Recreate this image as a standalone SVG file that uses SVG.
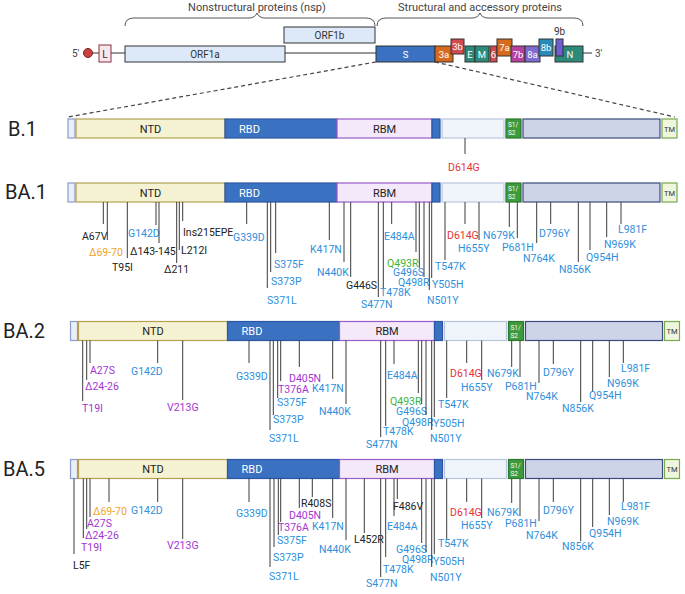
<svg xmlns="http://www.w3.org/2000/svg" width="685" height="594" viewBox="0 0 685 594">
<style>
text{font-family:Roboto,"Liberation Sans",sans-serif}
.m{font-size:10.5px}
.b{fill:#2f8fdc}.k{fill:#222}.p{fill:#a236d2}.o{fill:#f0a21e}.g{fill:#3cb43c}.r{fill:#e43434}
.ld{stroke:#3a3a3a;stroke-width:1;fill:none}
.gb{stroke:#333;stroke-width:1}
.gt{font-size:9.5px;fill:#fff;text-anchor:middle}
.row{font-size:20px;fill:#222}
.seg{stroke-width:1.2}
.w{fill:#fff}
.c{text-anchor:middle}
</style>
<rect width="685" height="594" fill="#fff"/>

<g id="header">
<path d="M125 26Q125 18 134 18H249Q255 18 257 13Q259 18 265 18H366Q375 18 375 26" fill="none" stroke="#555" stroke-width="1"/>
<path d="M377 26Q377 18 386 18H472Q478 18 480 13Q482 18 488 18H574Q583 18 583 26" fill="none" stroke="#555" stroke-width="1"/>
<text x="257" y="11" font-size="11" fill="#444" class="c">Nonstructural proteins (nsp)</text>
<text x="480" y="11" font-size="11" fill="#444" class="c">Structural and accessory proteins</text>
</g>

<g id="genome">
<path d="M92 53H99M111 53H125M285 53H376M583 53H592" stroke="#333" stroke-width="1.2"/>
<text x="72" y="57" font-size="10" fill="#444">5'</text>
<circle cx="88" cy="53" r="4.5" fill="#c94242" stroke="#7a2020"/>
<rect x="99" y="45" width="12" height="17" fill="#f8e6ea" stroke="#8a3040"/>
<text x="105" y="57.5" font-size="10" fill="#333" class="c">L</text>
<rect x="125" y="46" width="160" height="16" fill="#dde9f8" class="gb"/>
<text x="205" y="57.5" font-size="10" fill="#333" class="c">ORF1a</text>
<rect x="284" y="27" width="91" height="16" fill="#dde9f8" class="gb"/>
<text x="329.5" y="38.5" font-size="10" fill="#333" class="c">ORF1b</text>
<rect x="376" y="46" width="59" height="16" fill="#3b71c1" class="gb"/>
<text x="405.5" y="57.5" class="gt">S</text>
<rect x="435" y="46" width="18" height="16" fill="#d76a1e" class="gb"/>
<text x="444" y="57.5" class="gt">3a</text>
<rect x="451" y="39" width="13" height="15" fill="#d2494e" class="gb"/>
<text x="457.5" y="50" class="gt">3b</text>
<rect x="465" y="46" width="10" height="16" fill="#2b8a7a" class="gb"/>
<text x="470" y="57.5" class="gt">E</text>
<rect x="475" y="46" width="14" height="16" fill="#2b8a7a" class="gb"/>
<text x="482" y="57.5" class="gt">M</text>
<rect x="490" y="46" width="7" height="16" fill="#d2494e" class="gb"/>
<text x="493.5" y="57.5" class="gt">6</text>
<rect x="497" y="39" width="15" height="17" fill="#d76a1e" class="gb"/>
<text x="504.5" y="51" class="gt">7a</text>
<rect x="511" y="46" width="14" height="16" fill="#b5409e" class="gb"/>
<text x="518" y="57.5" class="gt">7b</text>
<rect x="525" y="46" width="15" height="16" fill="#7d6bd0" class="gb"/>
<text x="532.5" y="57.5" class="gt">8a</text>
<rect x="539" y="39" width="14" height="17" fill="#2b89b8" class="gb"/>
<text x="546" y="51" class="gt">8b</text>
<rect x="555" y="46" width="28" height="16" fill="#2b8a7a" class="gb"/>
<text x="570" y="57.5" class="gt">N</text>
<rect x="556" y="39" width="7" height="17" fill="#6d5fd2" class="gb"/>
<text x="559.5" y="35" font-size="10" fill="#333" class="c">9b</text>
<text x="595" y="57" font-size="10" fill="#444">3'</text>
</g>

<g id="zoom-lines">
<path d="M376 62L68 117M435 62L675 117" stroke="#444" stroke-width="1.2" stroke-dasharray="4 3" fill="none"/>
</g>

<g id="row-B1">
<text x="8" y="136" class="row">B.1</text>
<g transform="translate(68,119)">
<rect x="0" y="0" width="7" height="19" fill="#e9eef8" stroke="#8c9ccc" class="seg"/>
<rect x="8" y="0" width="149" height="19" fill="#f5f2d3" stroke="#b5a052" class="seg"/>
<rect x="157" y="0" width="112" height="19" fill="#3b71c1" stroke="#2b55a5" class="seg"/>
<rect x="269" y="0" width="95" height="19" fill="#f3e9fa" stroke="#9a5cc8" class="seg"/>
<rect x="364" y="0" width="8" height="19" fill="#3b71c1" stroke="#2b55a5" class="seg"/>
<rect x="374" y="0" width="62" height="19" fill="#f0f4fb" stroke="#b9c6de" class="seg"/>
<rect x="438" y="0" width="15" height="19" fill="#3d9b3d" stroke="#2a7a2a" class="seg"/>
<rect x="455" y="0" width="137" height="19" fill="#cdd4e7" stroke="#3b4b7d" class="seg"/>
<rect x="594" y="0" width="15" height="19" fill="#eff6de" stroke="#79a94a" class="seg"/>
<text x="82.5" y="13.5" font-size="11" class="k c">NTD</text>
<text x="171" y="13.5" font-size="11" class="w">RBD</text>
<text x="316.5" y="13.5" font-size="11" class="k c">RBM</text>
<text x="440" y="8" font-size="6.5" class="w">S1/</text>
<text x="440" y="16" font-size="6.5" class="w">S2</text>
<text x="601.5" y="12.5" font-size="7.5" fill="#333" class="c">TM</text>
</g>
<text x="448" y="171" class="m r">D614G</text>
</g>

<g id="row-BA1">
<text x="5" y="199" class="row">BA.1</text>
<g transform="translate(68,183)">
<rect x="0" y="0" width="7" height="19" fill="#e9eef8" stroke="#8c9ccc" class="seg"/>
<rect x="8" y="0" width="149" height="19" fill="#f5f2d3" stroke="#b5a052" class="seg"/>
<rect x="157" y="0" width="112" height="19" fill="#3b71c1" stroke="#2b55a5" class="seg"/>
<rect x="269" y="0" width="95" height="19" fill="#f3e9fa" stroke="#9a5cc8" class="seg"/>
<rect x="364" y="0" width="8" height="19" fill="#3b71c1" stroke="#2b55a5" class="seg"/>
<rect x="374" y="0" width="62" height="19" fill="#f0f4fb" stroke="#b9c6de" class="seg"/>
<rect x="438" y="0" width="15" height="19" fill="#3d9b3d" stroke="#2a7a2a" class="seg"/>
<rect x="455" y="0" width="137" height="19" fill="#cdd4e7" stroke="#3b4b7d" class="seg"/>
<rect x="594" y="0" width="15" height="19" fill="#eff6de" stroke="#79a94a" class="seg"/>
<text x="82.5" y="13.5" font-size="11" class="k c">NTD</text>
<text x="171" y="13.5" font-size="11" class="w">RBD</text>
<text x="316.5" y="13.5" font-size="11" class="k c">RBM</text>
<text x="440" y="8" font-size="6.5" class="w">S1/</text>
<text x="440" y="16" font-size="6.5" class="w">S2</text>
<text x="601.5" y="12.5" font-size="7.5" fill="#333" class="c">TM</text>
</g>
<g class="m">
<text x="82" y="239.7" class="k">A67V</text>
<text x="89" y="255.7" class="o">Δ69-70</text>
<text x="112" y="270.7" class="k">T95I</text>
<text x="128" y="236.7" class="b">G142D</text>
<text x="130" y="254.7" class="k">Δ143-145</text>
<text x="164" y="272.7" class="k">Δ211</text>
<text x="181" y="253.7" class="k">L212I</text>
<text x="183" y="235.7" class="k">Ins215EPE</text>
<text x="233" y="240.7" class="b">G339D</text>
<text x="267" y="303.7" class="b">S371L</text>
<text x="271" y="284.7" class="b">S373P</text>
<text x="274" y="267.7" class="b">S375F</text>
<text x="310" y="252.7" class="b">K417N</text>
<text x="317" y="275.7" class="b">N440K</text>
<text x="346" y="288.7" class="k">G446S</text>
<text x="361" y="307.7" class="b">S477N</text>
<text x="380" y="295.7" class="b">T478K</text>
<text x="384" y="239.7" class="b">E484A</text>
<text x="387" y="266.7" class="g">Q493R</text>
<text x="393" y="275.7" class="b">G496S</text>
<text x="398" y="285.7" class="b">Q498R</text>
<text x="427" y="303.7" class="b">N501Y</text>
<text x="432" y="287.7" class="b">Y505H</text>
<text x="435" y="269.7" class="b">T547K</text>
<text x="447" y="238.7" class="r">D614G</text>
<text x="458" y="251.7" class="b">H655Y</text>
<text x="483" y="238.7" class="b">N679K</text>
<text x="502" y="250.7" class="b">P681H</text>
<text x="523" y="261.7" class="b">N764K</text>
<text x="539" y="236.7" class="b">D796Y</text>
<text x="559" y="272.7" class="b">N856K</text>
<text x="586" y="260.7" class="b">Q954H</text>
<text x="604" y="247.7" class="b">N969K</text>
<text x="618" y="232.7" class="b">L981F</text>
</g>
</g>

<g id="row-BA2">
<text x="3" y="338" class="row">BA.2</text>
<g transform="translate(70.5,321.5)">
<rect x="0" y="0" width="7" height="19" fill="#e9eef8" stroke="#8c9ccc" class="seg"/>
<rect x="8" y="0" width="149" height="19" fill="#f5f2d3" stroke="#b5a052" class="seg"/>
<rect x="157" y="0" width="112" height="19" fill="#3b71c1" stroke="#2b55a5" class="seg"/>
<rect x="269" y="0" width="95" height="19" fill="#f3e9fa" stroke="#9a5cc8" class="seg"/>
<rect x="364" y="0" width="8" height="19" fill="#3b71c1" stroke="#2b55a5" class="seg"/>
<rect x="374" y="0" width="62" height="19" fill="#f0f4fb" stroke="#b9c6de" class="seg"/>
<rect x="438" y="0" width="15" height="19" fill="#3d9b3d" stroke="#2a7a2a" class="seg"/>
<rect x="455" y="0" width="137" height="19" fill="#cdd4e7" stroke="#3b4b7d" class="seg"/>
<rect x="594" y="0" width="15" height="19" fill="#eff6de" stroke="#79a94a" class="seg"/>
<text x="82.5" y="13.5" font-size="11" class="k c">NTD</text>
<text x="171" y="13.5" font-size="11" class="w">RBD</text>
<text x="316.5" y="13.5" font-size="11" class="k c">RBM</text>
<text x="440" y="8" font-size="6.5" class="w">S1/</text>
<text x="440" y="16" font-size="6.5" class="w">S2</text>
<text x="601.5" y="12.5" font-size="7.5" fill="#333" class="c">TM</text>
</g>
<g class="m">
<text x="82" y="411.7" class="p">T19I</text>
<text x="85" y="389.7" class="p">Δ24-26</text>
<text x="90" y="373.7" class="p">A27S</text>
<text x="131" y="374.7" class="b">G142D</text>
<text x="167" y="410.7" class="p">V213G</text>
<text x="236" y="379.7" class="b">G339D</text>
<text x="269" y="441.7" class="b">S371L</text>
<text x="273" y="422.7" class="b">S373P</text>
<text x="277" y="405.7" class="b">S375F</text>
<text x="278" y="392.7" class="p">T376A</text>
<text x="289" y="381.7" class="p">D405N</text>
<text x="312" y="391.7" class="b">K417N</text>
<text x="319" y="414.7" class="b">N440K</text>
<text x="366" y="447.7" class="b">S477N</text>
<text x="383" y="434.7" class="b">T478K</text>
<text x="387" y="378.7" class="b">E484A</text>
<text x="390" y="404.7" class="g">Q493R</text>
<text x="396" y="414.7" class="b">G496S</text>
<text x="402" y="425.7" class="b">Q498R</text>
<text x="430" y="441.7" class="b">N501Y</text>
<text x="433" y="426.7" class="b">Y505H</text>
<text x="438" y="407.7" class="b">T547K</text>
<text x="450" y="376.7" class="r">D614G</text>
<text x="461" y="390.7" class="b">H655Y</text>
<text x="487" y="376.7" class="b">N679K</text>
<text x="505" y="389.7" class="b">P681H</text>
<text x="526" y="399.7" class="b">N764K</text>
<text x="543" y="375.7" class="b">D796Y</text>
<text x="562" y="411.7" class="b">N856K</text>
<text x="589" y="398.7" class="b">Q954H</text>
<text x="607" y="386.7" class="b">N969K</text>
<text x="621" y="371.7" class="b">L981F</text>
</g>
</g>

<g id="row-BA5">
<text x="3" y="476" class="row">BA.5</text>
<g transform="translate(70.5,459.5)">
<rect x="0" y="0" width="7" height="19" fill="#e9eef8" stroke="#8c9ccc" class="seg"/>
<rect x="8" y="0" width="149" height="19" fill="#f5f2d3" stroke="#b5a052" class="seg"/>
<rect x="157" y="0" width="112" height="19" fill="#3b71c1" stroke="#2b55a5" class="seg"/>
<rect x="269" y="0" width="95" height="19" fill="#f3e9fa" stroke="#9a5cc8" class="seg"/>
<rect x="364" y="0" width="8" height="19" fill="#3b71c1" stroke="#2b55a5" class="seg"/>
<rect x="374" y="0" width="62" height="19" fill="#f0f4fb" stroke="#b9c6de" class="seg"/>
<rect x="438" y="0" width="15" height="19" fill="#3d9b3d" stroke="#2a7a2a" class="seg"/>
<rect x="455" y="0" width="137" height="19" fill="#cdd4e7" stroke="#3b4b7d" class="seg"/>
<rect x="594" y="0" width="15" height="19" fill="#eff6de" stroke="#79a94a" class="seg"/>
<text x="82.5" y="13.5" font-size="11" class="k c">NTD</text>
<text x="171" y="13.5" font-size="11" class="w">RBD</text>
<text x="316.5" y="13.5" font-size="11" class="k c">RBM</text>
<text x="440" y="8" font-size="6.5" class="w">S1/</text>
<text x="440" y="16" font-size="6.5" class="w">S2</text>
<text x="601.5" y="12.5" font-size="7.5" fill="#333" class="c">TM</text>
</g>
<g class="m">
<text x="73" y="568.7" class="k">L5F</text>
<text x="81" y="550.7" class="p">T19I</text>
<text x="85" y="538.7" class="p">Δ24-26</text>
<text x="87" y="526.7" class="p">A27S</text>
<text x="93" y="514.7" class="o">Δ69-70</text>
<text x="131" y="513.7" class="b">G142D</text>
<text x="167" y="548.7" class="p">V213G</text>
<text x="236" y="516.7" class="b">G339D</text>
<text x="269" y="579.7" class="b">S371L</text>
<text x="273" y="560.7" class="b">S373P</text>
<text x="277" y="543.7" class="b">S375F</text>
<text x="278" y="530.7" class="p">T376A</text>
<text x="289" y="518.7" class="p">D405N</text>
<text x="301" y="506.7" class="k">R408S</text>
<text x="312" y="529.7" class="b">K417N</text>
<text x="319" y="552.7" class="b">N440K</text>
<text x="354" y="542.7" class="k">L452R</text>
<text x="366" y="586.7" class="b">S477N</text>
<text x="383" y="572.7" class="b">T478K</text>
<text x="387" y="529.7" class="b">E484A</text>
<text x="393" y="509.7" class="k">F486V</text>
<text x="396" y="552.7" class="b">G496S</text>
<text x="402" y="562.7" class="b">Q498R</text>
<text x="430" y="580.7" class="b">N501Y</text>
<text x="433" y="564.7" class="b">Y505H</text>
<text x="438" y="546.7" class="b">T547K</text>
<text x="450" y="515.7" class="r">D614G</text>
<text x="461" y="528.7" class="b">H655Y</text>
<text x="487" y="515.7" class="b">N679K</text>
<text x="505" y="526.7" class="b">P681H</text>
<text x="526" y="538.7" class="b">N764K</text>
<text x="543" y="513.7" class="b">D796Y</text>
<text x="562" y="549.7" class="b">N856K</text>
<text x="589" y="536.7" class="b">Q954H</text>
<text x="607" y="524.7" class="b">N969K</text>
<text x="621" y="509.7" class="b">L981F</text>
</g>
</g>

<g id="connectors" class="ld">
<path d="M465 138V154"/>
<path d="M103.3 202V224M107.3 202V240M127.3 202V258M156 202V225M159 202V243M176.7 202V263M179.3 202V250M182.7 202V221M246.7 202V224M267.3 202V288M270.7 202V272M275.7 202V253M329.3 202V240M344 202V262M350.7 202V277M378.3 202V297M383.3 202V288M391.7 202V224M416 202V252M419.3 202V268M424 202V277M429.3 202V290M431.7 202V278M445 202V260M465 202V224M479 202V240M509.3 202V227M517.3 202V238M536.7 202V243M550.7 202V224M578.3 202V262M590 202V250M606.7 202V237M621 202V224"/>
<path d="M82.7 340.5V401M86.7 340.5V380M90 340.5V363M157.7 340.5V363M182.7 340.5V400M249 340.5V363M270 340.5V430M273.3 340.5V415M277.7 340.5V398M280.7 340.5V381M299.3 340.5V367M332.7 340.5V379M346 340.5V404M380.7 340.5V437M385.7 340.5V426M394 340.5V364M418.3 340.5V393M421.7 340.5V404M426 340.5V415M431.7 340.5V430M434.3 340.5V417M446.7 340.5V398M466.7 340.5V363M481.7 340.5V380M511.7 340.5V367M520 340.5V377M539 340.5V383M553.3 340.5V364M580.7 340.5V402M592.7 340.5V391M609.3 340.5V377M623.3 340.5V363"/>
<path d="M74 478.5V554M83.3 478.5V538M86.7 478.5V529M90 478.5V517M109 478.5V502M157.7 478.5V502M182.7 478.5V539M249 478.5V502M270 478.5V567M274 478.5V547M278.3 478.5V535M280.7 478.5V522M299.3 478.5V508M312.3 478.5V497M332.7 478.5V518M346 478.5V540M364.3 478.5V533M380.7 478.5V577M385.7 478.5V557M394 478.5V516M397.3 478.5V499M421.7 478.5V543M426 478.5V552M431.7 478.5V567M434.3 478.5V554M446.7 478.5V539M466.7 478.5V502M481.7 478.5V518M511.7 478.5V503M520 478.5V516M539 478.5V521M553.3 478.5V502M580.7 478.5V541M592.7 478.5V527M609.3 478.5V515M623.3 478.5V502"/>
</g>
</svg>
